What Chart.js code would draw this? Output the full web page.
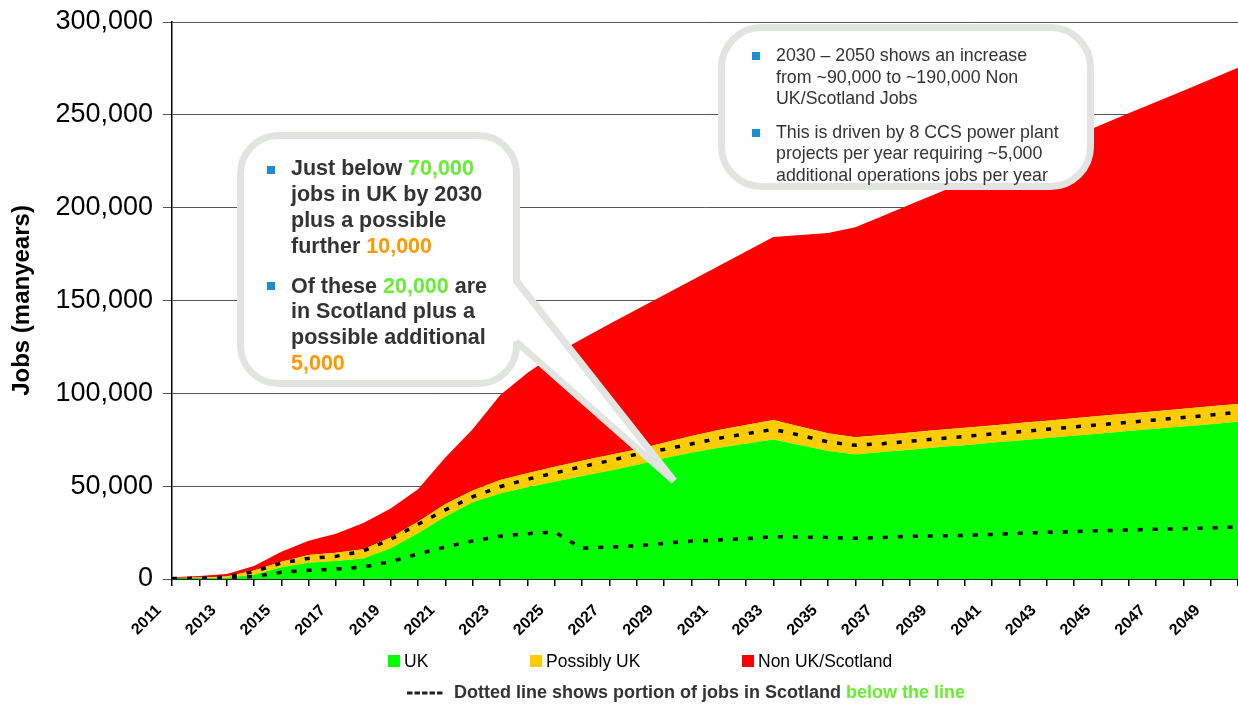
<!DOCTYPE html>
<html><head><meta charset="utf-8">
<script src="https://cdn.jsdelivr.net/npm/chart.js@4.4.1/dist/chart.umd.min.js"></script>
<style>html,body{margin:0;padding:0;background:#fff;overflow:hidden}#wrap{width:1238px;height:704px;position:relative}</style>
</head><body><div id="wrap"><canvas id="c" width="1238" height="704"></canvas></div>
<script>
const years = ['2011','2012','2013','2014','2015','2016','2017','2018','2019','2020','2021','2022','2023','2024','2025','2026','2027','2028','2029','2030','2031','2032','2033','2034','2035','2036','2037','2038','2039','2040','2041','2042','2043','2044','2045','2046','2047','2048','2049','2050'];
const ukJobs = [300,500,700,2300,6300,8800,9700,11100,16500,24600,33600,41300,46100,49400,52400,55500,58300,61400,65000,68000,70700,72900,75200,72000,68900,67100,68400,69600,70900,72100,73400,74600,75900,77200,78400,79700,80900,82200,83400,84700];
const possiblyUkJobs = [200,300,600,2300,3000,4100,4500,4900,5800,6300,6800,6300,7200,7500,8100,8200,8500,8400,8400,9000,9600,10100,10400,10000,9600,9200,9200,9300,9300,9300,9300,9400,9400,9400,9500,9500,9500,9500,9600,9600];
const nonUkJobs = [400,800,1400,2400,5400,7700,10200,14200,15700,17400,25100,33000,45700,54100,60500,65600,70500,75300,79600,83800,88300,93400,98600,103300,107900,113100,117900,122800,127600,132500,137400,142200,147100,151900,156700,161600,166500,171300,176200,181100];
const upperDottedLine = [0,300,1000,4000,8600,11100,12200,15100,21400,29500,37200,44300,49700,53700,57100,60500,63700,67200,69800,72700,75800,78200,80600,77400,73800,72000,72900,74200,75500,76800,78100,79300,80600,81900,83200,84400,85700,87000,88300,89800];
const scotlandLine = [300,300,400,1400,3600,4700,5300,6500,9300,13500,17200,20500,23000,24400,25300,16500,17200,17900,19200,20400,21000,21700,22800,22600,22400,21900,22400,23000,23200,23500,24000,24600,25100,25500,26000,26400,26800,27100,27500,28000];
const yTickValues = [0,50000,100000,150000,200000,250000,300000];
const seriesNames = ['UK','Possibly UK','Non UK/Scotland'];
const yTitle = 'Jobs (manyears)';

const FONT = '"Liberation Sans", Arial, sans-serif';
const DARK = '#333333', GREEN_T = '#66EE33', ORANGE_T = '#FF9900', BULLET = '#1A8CD0', OUTLINE = '#E2E4E2';
const COLORS = ['#00FF00','#FFCC00','#FF0000'];

function rich(ctx, x, y, segs) {
  let cx = x;
  for (const [t, c] of segs) { ctx.fillStyle = c; ctx.fillText(t, cx, y); cx += ctx.measureText(t).width; }
}

const overlay = {
  id: 'overlay',
  afterDraw(chart) {
    const ctx = chart.ctx;
    ctx.save();
    // left callout with pointer
    let x0 = 240.5, y0 = 135.5, x1 = 516.5, y1 = 383.5, r = 38;
    ctx.beginPath();
    ctx.moveTo(x0 + r, y0);
    ctx.lineTo(x1 - r, y0);
    ctx.arcTo(x1, y0, x1, y0 + r, r);
    ctx.lineTo(x1, 281);
    ctx.lineTo(674, 481);
    ctx.lineTo(x1, 342);
    ctx.arcTo(x1, y1, x1 - r, y1, r);
    ctx.lineTo(x0 + r, y1);
    ctx.arcTo(x0, y1, x0, y1 - r, r);
    ctx.lineTo(x0, y0 + r);
    ctx.arcTo(x0, y0, x0 + r, y0, r);
    ctx.closePath();
    ctx.fillStyle = '#fff'; ctx.fill();
    ctx.lineWidth = 7; ctx.strokeStyle = OUTLINE; ctx.lineJoin = 'miter'; ctx.miterLimit = 1.5; ctx.stroke();

    // right callout
    x0 = 721.5; y0 = 27.5; x1 = 1090.5; y1 = 186.5; r = 40;
    ctx.beginPath();
    ctx.moveTo(x0 + r, y0);
    ctx.arcTo(x1, y0, x1, y1, r);
    ctx.arcTo(x1, y1, x0, y1, r);
    ctx.arcTo(x0, y1, x0, y0, r);
    ctx.arcTo(x0, y0, x1, y0, r);
    ctx.closePath();
    ctx.fillStyle = '#fff'; ctx.fill();
    ctx.lineWidth = 7; ctx.strokeStyle = OUTLINE; ctx.stroke();

    // left callout text
    ctx.textBaseline = 'alphabetic'; ctx.textAlign = 'left';
    ctx.font = 'bold 21.5px ' + FONT;
    const lx = 291;
    rich(ctx, lx, 175, [['Just below ', DARK], ['70,000', GREEN_T]]);
    rich(ctx, lx, 201, [['jobs in UK by 2030', DARK]]);
    rich(ctx, lx, 227, [['plus a possible', DARK]]);
    rich(ctx, lx, 252.5, [['further ', DARK], ['10,000', ORANGE_T]]);
    rich(ctx, lx, 292.5, [['Of these ', DARK], ['20,000', GREEN_T], [' are', DARK]]);
    rich(ctx, lx, 318, [['in Scotland plus a', DARK]]);
    rich(ctx, lx, 344, [['possible additional', DARK]]);
    rich(ctx, lx, 369.5, [['5,000', ORANGE_T]]);
    ctx.fillStyle = BULLET;
    ctx.fillRect(267, 166, 8, 8);
    ctx.fillRect(267, 282, 8, 8);

    // right callout text
    ctx.font = '17.8px ' + FONT;
    const rx = 776;
    const rlines = [[61,'2030 \u2013 2050 shows an increase'],[82.5,'from ~90,000 to ~190,000 Non'],[104,'UK/Scotland Jobs'],[137.5,'This is driven by 8 CCS power plant'],[159,'projects per year requiring ~5,000'],[180.5,'additional operations jobs per year']];
    for (const [y, t] of rlines) { ctx.fillStyle = DARK; ctx.fillText(t, rx, y); }
    ctx.fillStyle = BULLET;
    ctx.fillRect(752, 52, 8, 8);
    ctx.fillRect(752, 129, 8, 8);

    // legend
    const legX = [388, 530, 742];
    ctx.font = '17.5px ' + FONT;
    chart.data.datasets.filter(d => d.legendItem).forEach((d, i) => {
      ctx.fillStyle = d.backgroundColor;
      ctx.fillRect(legX[i], 655, 12, 12);
      ctx.fillStyle = '#000';
      ctx.fillText(d.label, legX[i] + 16, 667);
    });

    // footnote
    ctx.strokeStyle = '#222'; ctx.lineWidth = 3; ctx.setLineDash([5.5, 2]);
    ctx.beginPath(); ctx.moveTo(407, 693); ctx.lineTo(444, 693); ctx.stroke();
    ctx.setLineDash([]);
    ctx.font = 'bold 18px ' + FONT;
    rich(ctx, 454, 698, [['Dotted line shows portion of jobs in Scotland ', DARK], ['below the line', GREEN_T]]);
    ctx.restore();
  }
};

const areaCommon = { pointRadius: 0, borderWidth: 0, borderColor: 'rgba(0,0,0,0)', tension: 0, stack: 'areas', order: 2, legendItem: true };
const dotCommon = { pointRadius: 0, borderWidth: 3.5, borderColor: '#000', borderDash: [5, 10], borderCapStyle: 'butt', fill: false, tension: 0, order: 0 };

new Chart(document.getElementById('c'), {
  type: 'line',
  data: {
    labels: years,
    datasets: [
      Object.assign({ label: seriesNames[0], data: ukJobs, backgroundColor: COLORS[0], fill: 'origin' }, areaCommon),
      Object.assign({ label: seriesNames[1], data: possiblyUkJobs, backgroundColor: COLORS[1], fill: '-1' }, areaCommon),
      Object.assign({ label: seriesNames[2], data: nonUkJobs, backgroundColor: COLORS[2], fill: '-1' }, areaCommon),
      Object.assign({ label: 'Scotland', data: scotlandLine, stack: 'scot' }, dotCommon),
      Object.assign({ label: 'Scotland upper', data: upperDottedLine, stack: 'scot2' }, dotCommon)
    ]
  },
  options: {
    responsive: false,
    animation: false,
    devicePixelRatio: 1,
    layout: { padding: { top: 22, right: 0, bottom: 50, left: 0 } },
    plugins: { legend: { display: false }, tooltip: { enabled: false } },
    scales: {
      x: {
        offset: false,
        grid: { drawOnChartArea: false, drawTicks: true, tickLength: 7, color: '#000', lineWidth: 1.5 },
        border: { display: true, color: '#000', width: 1.5 },
        ticks: {
          autoSkip: false, minRotation: 45, maxRotation: 45, padding: 15, labelOffset: -13,
          color: '#000', font: { family: FONT, size: 16, weight: 'bold' },
          callback: function (v, i) { return i % 2 === 0 ? this.getLabelForValue(v) : ''; }
        },
        afterFit: s => { s.height = 75; s.paddingLeft = 0; s.paddingRight = 0; }
      },
      y: {
        stacked: true, min: 0, max: 300000,
        afterBuildTicks: s => { s.ticks = yTickValues.map(v => ({ value: v })); },
        grid: { color: '#555', lineWidth: 1, tickLength: 9 },
        border: { display: true, color: '#000', width: 1.5 },
        ticks: { padding: 10, color: '#000', font: { family: FONT, size: 27 }, callback: v => v.toLocaleString('en-US') },
        title: { display: true, text: yTitle, color: '#000', font: { family: FONT, size: 24, weight: 'bold' }, padding: { top: 8 } },
        afterFit: s => { s.width = 172; s.paddingTop = 0; s.paddingBottom = 0; }
      }
    }
  },
  plugins: [overlay]
});
</script></body></html>
